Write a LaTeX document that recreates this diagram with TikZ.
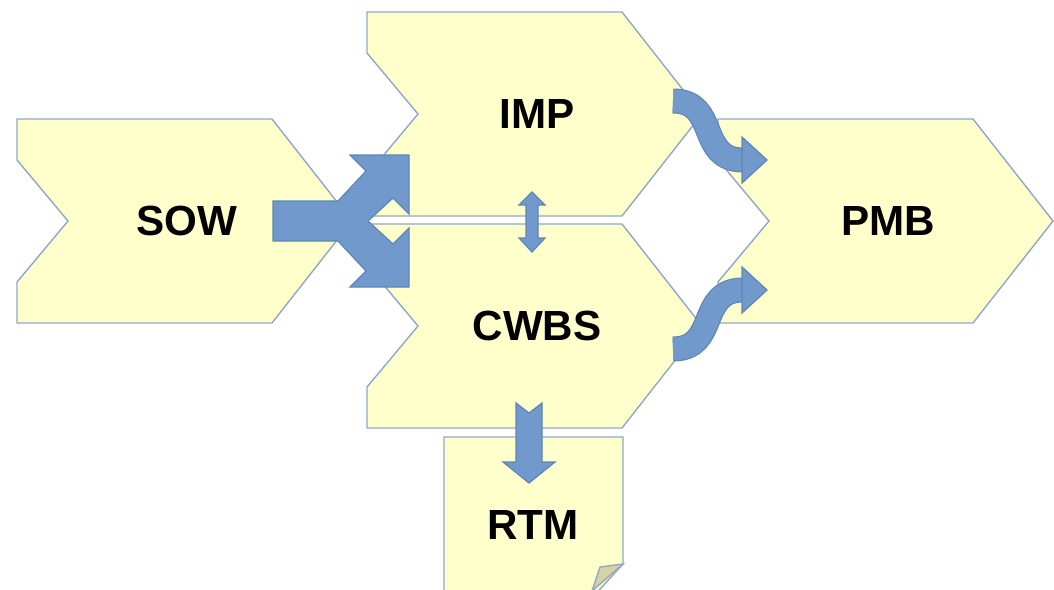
\documentclass[tikz,border=0pt]{standalone}
\usepackage{fontspec}
\setmainfont{Liberation Sans}

\definecolor{shapefill}{HTML}{FFFFCC}
\definecolor{shapeline}{HTML}{8FA8C8}
\definecolor{foldfill}{HTML}{D6D2A2}
\definecolor{arrowfill}{HTML}{7299CC}
\definecolor{arrowline}{HTML}{5D86B8}

\begin{document}
\begin{tikzpicture}[x=0.02cm, y=-0.02cm,
    every node/.style={font=\bfseries\fontsize{24}{28}\selectfont},
    chev/.style={fill=shapefill, draw=shapeline, line width=0.8pt, line join=miter},
    blockarrow/.style={fill=arrowfill, draw=arrowline, line width=0.7pt, line join=miter}]
        \clip (0,0) rectangle (1054,589);

        % Note (RTM), cut by the lower edge
        \draw[chev] (444,437) -- (623,437) -- (623,564) -- (590,600) -- (444,600) -- cycle;
        \draw[chev, fill=foldfill] (623,564) -- (600,567) -- (592,591) -- cycle;
        \node (rtm) at (533,525) {RTM};

        % Chevrons: name/label/left/top
        \foreach \nm/\lbl/\x/\y in {sow/SOW/17/119, imp/IMP/367/12, cwbs/CWBS/367/224, pmb/PMB/718/119} {
            \draw[chev] (\x,\y) -- ++(255,0) -- ++(80,102) -- ++(-80,102) -- ++(-255,0)
                -- ++(0,-41) -- ++(51,-61) -- ++(-51,-61) -- cycle;
            \node (\nm) at (\x+170,\y+102) {\lbl};
        }

        % Split arrow SOW -> IMP / CWBS
        \draw[blockarrow] (273,201) -- (338,201) -- (366,171) -- (350,155) -- (409,155)
            -- (409,214) -- (393,198) -- (368,221) -- (393,244) -- (409,228)
            -- (409,287) -- (350,287) -- (366,271) -- (338,241) -- (273,241) -- cycle;

        % Double arrow IMP <-> CWBS
        \draw[blockarrow] (532,192) -- (545,205) -- (538,205) -- (538,238) -- (545,238)
            -- (532,252) -- (519,238) -- (526,238) -- (526,205) -- (519,205) -- cycle;

        % Down arrow CWBS -> RTM
        \draw[blockarrow] (516,403) -- (529,413) -- (542,403) -- (542,462) -- (555,462)
            -- (529,483) -- (503,462) -- (516,462) -- cycle;

        % Curved arrows to PMB
        \coordinate (impout) at (673,101);
        \coordinate (cwbsout) at (673,349);
        \coordinate (pmbtop) at (743,160);
        \coordinate (pmbbot) at (743,290);
        \foreach \a/\b in {impout/pmbtop, cwbsout/pmbbot} {
            \draw[arrowline, line width=0.5cm] (\a) .. controls +(46,0) and +(-46,0) .. (\b);
            \draw[arrowfill, line width=0.45cm] (\a) .. controls +(46,0) and +(-46,0) .. (\b);
            \draw[blockarrow] (\b) ++(-1,-23) -- ++(25,23) -- ++(-25,23) -- cycle;
        }
    \end{tikzpicture}
\end{document}
